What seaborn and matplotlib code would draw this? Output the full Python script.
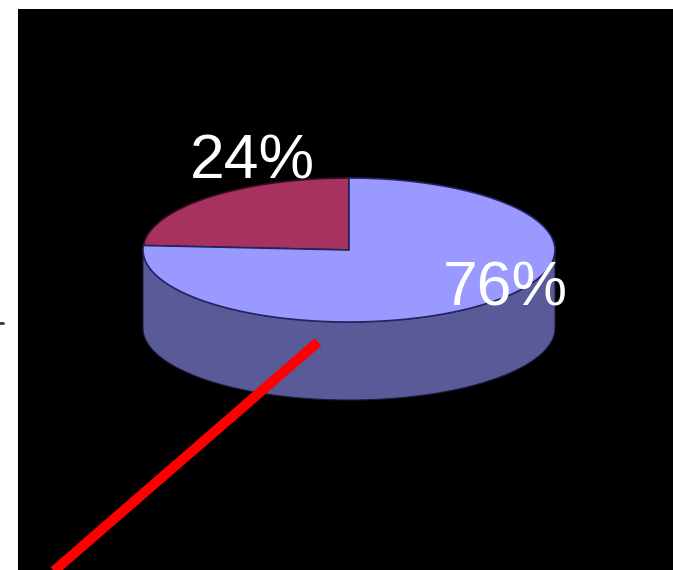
import numpy as np
import matplotlib
matplotlib.use("Agg")
import matplotlib.pyplot as plt
import seaborn as sns
from matplotlib.patches import Polygon
from matplotlib.lines import Line2D

# slice data
labels = ["24%", "76%"]
shares = [24, 76]
top_colors = ["#a8325f", "#9999ff"]
side_colors = ["#6a2445", "#5a5a98"]
edge_colors = ["#3a0c22", "#24245e"]

# layout (pixel space of the picture)
CX, CY = 349, 250
RX, RY = 206, 72
DEPTH = 78
label_xy = [(252, 162), (505, 289)]

sns.set_theme(style="white")
plt.rcParams["font.family"] = ["Liberation Sans", "DejaVu Sans"]

fig = plt.figure(figsize=(6.73, 5.70), dpi=100)
fig.patch.set_facecolor("white")
ax = fig.add_axes([18 / 673, 0, 655 / 673, 561 / 570])
ax.set_facecolor("black")
ax.set_xlim(18, 673)
ax.set_ylim(570, 9)
ax.set_xticks([])
ax.set_yticks([])
for s in ax.spines.values():
    s.set_visible(False)


def arc(t0, t1, dy=0, n=200):
    t = np.radians(np.linspace(t0, t1, n))
    return np.column_stack([CX + RX * np.cos(t), CY - RY * np.sin(t) + dy])


# slice angles, counter-clockwise from the top
angles = []
a0 = 90.0
for v in shares:
    a1 = a0 + 360.0 * v / sum(shares)
    angles.append((a0, a1))
    a0 = a1

# front sides first
for (a0, a1), c in zip(angles, side_colors):
    for k in range(-1, 3):
        s = max(a0, 180 + 360 * k)
        e = min(a1, 360 + 360 * k)
        if e > s:
            pts = np.vstack([arc(s, e), arc(e, s, DEPTH)])
            ax.add_patch(Polygon(pts, closed=True, facecolor=c,
                                 edgecolor="#1c1c40", lw=0.8, zorder=1))

# top faces
for (a0, a1), c, ec in zip(angles, top_colors, edge_colors):
    pts = np.vstack([[CX, CY], arc(a0, a1)])
    ax.add_patch(Polygon(pts, closed=True, facecolor=c,
                         edgecolor=ec, lw=1.2, zorder=2))

for txt, (x, y) in zip(labels, label_xy):
    ax.text(x, y, txt, color="white", fontsize=45, ha="center",
            va="center", zorder=4)

# red pointer line
ax.plot([318, 40], [342, 583], color="red", lw=7.2,
        solid_capstyle="butt", zorder=5)

# stray tick at left edge
fig.add_artist(Line2D([0, 3 / 673], [1 - 323 / 570] * 2, color="#333333",
                      lw=2, transform=fig.transFigure))

fig.savefig("out.png", dpi=100, facecolor="white")
